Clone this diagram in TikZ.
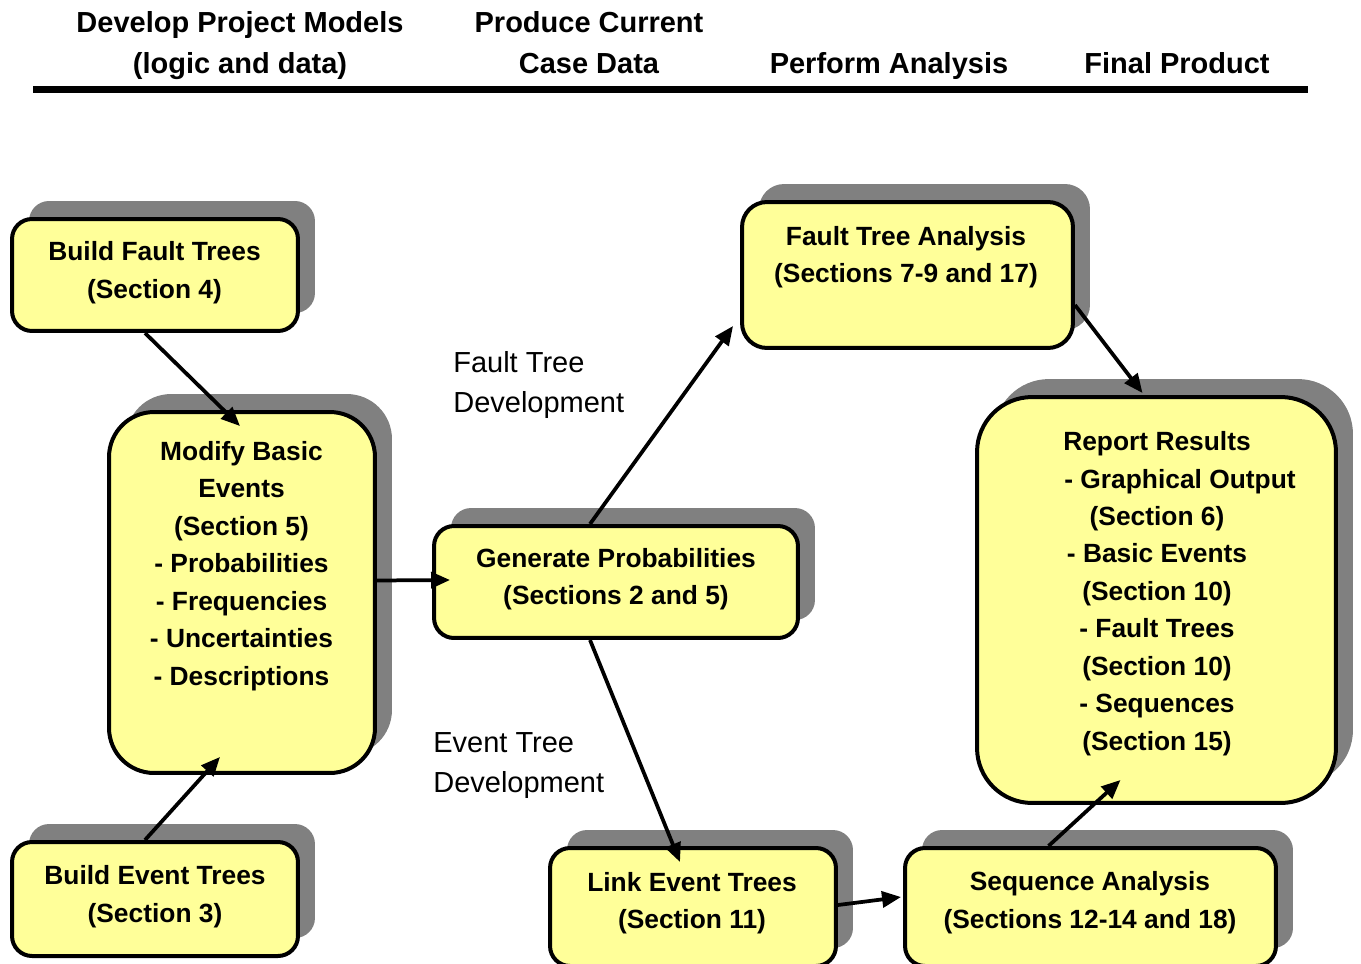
\documentclass[tikz,border=0pt]{standalone}
\usepackage{fontspec}
\setmainfont{Liberation Sans}
\usetikzlibrary{arrows.meta,shadows}
\definecolor{boxyellow}{HTML}{FFFF99}

\begin{document}
\begin{tikzpicture}[x=0.02cm,y=-0.02cm,
  box/.style={draw,line width=0.08cm,fill=boxyellow,rounded corners=0.4cm,inner sep=0pt,
    drop shadow={shadow xshift=0.34cm,shadow yshift=0.36cm,fill=black!50,opacity=1}},
  boxtext/.style={align=center,inner sep=0pt,font=\fontsize{15}{21.3}\selectfont\bfseries},
  flow/.style={line width=0.075cm,-{Triangle[length=0.38cm,width=0.32cm]}},
  heading/.style={align=center,inner sep=0pt,font=\fontsize{16.5}{23.2}\selectfont\bfseries},
  phase/.style={align=left,anchor=west,inner sep=0pt,font=\fontsize{16.5}{23.2}\selectfont}]
\useasboundingbox (0,0) rectangle (1361,963);

%
% column headings
%
\node (hmodels) [heading] at (240,45.5) {Develop Project Models\\(logic and data)};
\node (hcase) [heading] at (589,42.5) {Produce Current\\Case Data};
\node (hanalysis) [heading] at (889,66) {Perform Analysis};
\node (hproduct) [heading] at (1177,63) {Final Product};
\draw[line width=0.14cm] (33,89.5) -- (1308,89.5);

%
% boxes
%
\node (bft) [box,minimum width=5.72cm,minimum height=2.24cm] at (155,275) {};
\node (modify) [box,rounded corners=0.9cm,minimum width=5.32cm,minimum height=7.22cm] at (242,592.5) {};
\node (bet) [box,minimum width=5.72cm,minimum height=2.28cm] at (155,899) {};
\node (gen) [box,minimum width=7.28cm,minimum height=2.24cm] at (616,582) {};
\node (fta) [box,rounded corners=0.5cm,minimum width=6.62cm,minimum height=2.92cm] at (907.5,275) {};
\node (report) [box,rounded corners=1.1cm,minimum width=7.18cm,minimum height=8.12cm] at (1156.5,600) {};
\node (link) [box,minimum width=5.72cm,minimum height=2.36cm] at (693,907) {};
\node (seq) [box,minimum width=7.42cm,minimum height=2.36cm] at (1090.5,907) {};

\node (bfttext) [boxtext] at (154.5,272.5) {Build Fault Trees\\(Section 4)};
\node (modifytext) [boxtext] at (241.5,566) {Modify Basic\\Events\\(Section 5)\\- Probabilities\\- Frequencies\\- Uncertainties\\- Descriptions};
\node (bettext) [boxtext] at (155,896.5) {Build Event Trees\\(Section 3)};
\node (gentext) [boxtext] at (616,579) {Generate Probabilities\\(Sections 2 and 5)};
\node (ftatext) [boxtext] at (906,257) {Fault Tree Analysis\\(Sections 7-9 and 17)};
\node (reporttext) [boxtext] at (1157,593.5) {Report Results\\\hspace*{0.92cm}- Graphical Output\\(Section 6)\\- Basic Events\\(Section 10)\\- Fault Trees\\(Section 10)\\- Sequences\\(Section 15)};
\node (linktext) [boxtext] at (692,903) {Link Event Trees\\(Section 11)};
\node (seqtext) [boxtext] at (1090,902.5) {Sequence Analysis\\(Sections 12-14 and 18)};

\node (ftdev) [phase] at (453,385) {Fault Tree\\Development};
\node (etdev) [phase] at (433,765.5) {Event Tree\\Development};

%
% flow arrows
%
\draw[flow] ([shift={(-10,0)}]bft.south) -- ([shift={(-2,16)}]modify.north);
\draw[flow] ([shift={(-10,0)}]bet.north) -- ([shift={(-22,-18)}]modify.south);
\draw[flow] ([shift={(0,-12)}]modify.east) -- ([shift={(18,-2)}]gen.west);
\draw[flow] ([shift={(-26,0)}]gen.north) -- ([shift={(-7,51)}]fta.west);
\draw[flow] ([shift={(-26,0)}]gen.south) -- ([shift={(-13,16)}]link.north);
\draw[flow] ([shift={(0,30)}]fta.east) -- ([shift={(-14,-2)}]report.north);
\draw[flow] ([shift={(0,-2)}]link.east) -- ([shift={(-2,-10)}]seq.west);
\draw[flow] ([shift={(-42,0)}]seq.north) -- ([shift={(-36,-25)}]report.south);

\end{tikzpicture}
\end{document}
